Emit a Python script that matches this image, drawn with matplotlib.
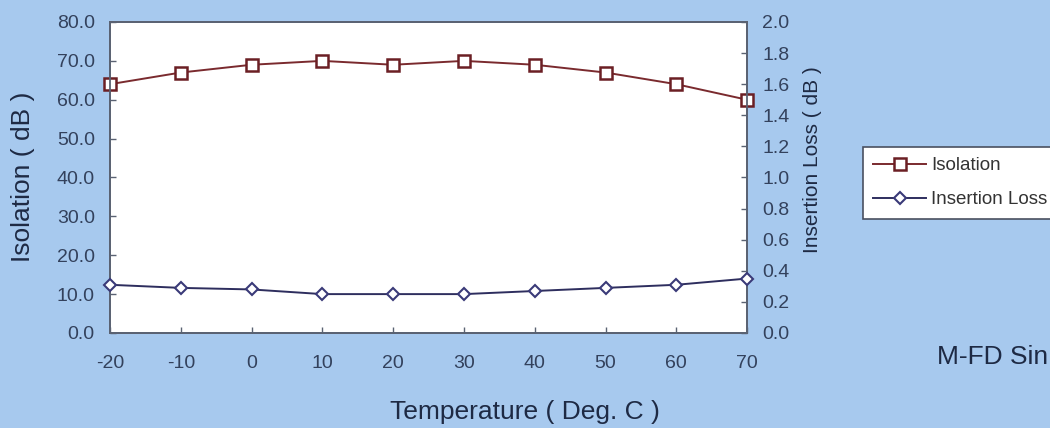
import matplotlib.pyplot as plt
from matplotlib.ticker import FormatStrFormatter

plt.rcParams['font.family'] = ['Liberation Sans', 'DejaVu Sans']
plt.rcParams['axes.unicode_minus'] = False

# data
temps = [-20, -10, 0, 10, 20, 30, 40, 50, 60, 70]
isolation = [64.0, 67.0, 69.0, 70.0, 69.0, 70.0, 69.0, 67.0, 64.0, 60.0]
insertion_loss = [0.31, 0.29, 0.28, 0.25, 0.25, 0.25, 0.27, 0.29, 0.31, 0.35]

bg = '#a7c9ee'
txt = '#1e2a44'
tick_c = '#33415c'
spine_c = '#5a6272'

fig = plt.figure(figsize=(10.5, 4.28), dpi=100)
fig.patch.set_facecolor(bg)

ax = fig.add_axes([0.1048, 0.222, 0.6067, 0.7266])
ax.set_facecolor('white')
ax2 = ax.twinx()

l1, = ax.plot(temps, isolation, color='#7a2a2e', lw=1.4, marker='s', ms=9,
              mfc='white', mec='#6b1f24', mew=1.8, clip_on=False, zorder=5, label='Isolation')
l2, = ax2.plot(temps, insertion_loss, color='#2e2e5e', lw=1.4, marker='D', ms=6.5,
               mfc='white', mec='#3a3a78', mew=1.5, clip_on=False, zorder=5, label='Insertion Loss')

ax.set_xlim(-20, 70)
ax.set_ylim(0, 80)
ax2.set_ylim(0, 2.0)
ax.set_xticks(temps)
ax.set_yticks(range(0, 81, 10))
ax2.set_yticks([i * 0.2 for i in range(11)])
ax.yaxis.set_major_formatter(FormatStrFormatter('%.1f'))
ax2.yaxis.set_major_formatter(FormatStrFormatter('%.1f'))

for a in (ax, ax2):
    for s in a.spines.values():
        s.set_color(spine_c)
        s.set_linewidth(1.3)
    a.tick_params(direction='in', length=4, width=1, color=spine_c,
                  labelsize=14, labelcolor=tick_c, pad=11)
ax.tick_params(axis='x', pad=16)

ax.set_xlabel('Temperature ( Deg. C )', fontsize=19, color=txt, va='center')
ax.xaxis.set_label_coords(0.5, 1 - 412 / 428, transform=fig.transFigure)
ax.set_ylabel('Isolation ( dB )', fontsize=19, color=txt, va='center')
ax.yaxis.set_label_coords(23 / 1050, 1 - 177 / 428, transform=fig.transFigure)
ax2.set_ylabel('Insertion Loss ( dB )', fontsize=15, color=txt, va='center')
ax2.yaxis.set_label_coords(813 / 1050, 1 - 160 / 428, transform=fig.transFigure)

leg = fig.legend(handles=[l1, l2], loc='upper left', bbox_to_anchor=(863 / 1050, 1 - 147 / 428),
                 fontsize=13.5, frameon=True, fancybox=False, edgecolor='#4a5060',
                 facecolor='white', framealpha=1,
                 handlelength=2.8, handletextpad=0.3, labelcolor='#333333',
                 borderpad=0.55, labelspacing=0.9, borderaxespad=0)
leg.get_frame().set_linewidth(1.2)

fig.text(937 / 1050, 1 - 357 / 428, 'M-FD Sin', fontsize=19, color=txt, va='center', ha='left')

fig.savefig('out.png', dpi=100, facecolor=bg)
